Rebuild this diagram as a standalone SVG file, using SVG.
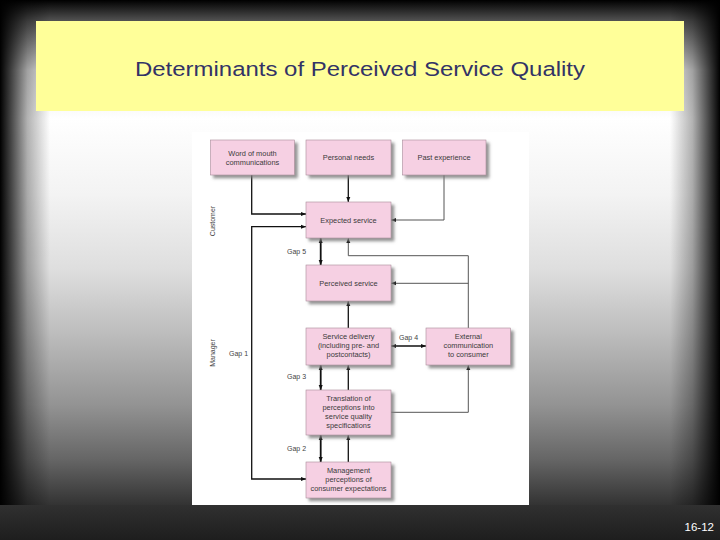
<svg xmlns="http://www.w3.org/2000/svg" width="720" height="540" viewBox="0 0 720 540">
<defs>
<linearGradient id="bgv" x1="0" y1="0" x2="0" y2="1">
<stop offset="0" stop-color="#000"/>
<stop offset="0.04" stop-color="#555"/>
<stop offset="0.13" stop-color="#e6e6e6"/>
<stop offset="0.22" stop-color="#fff"/>
<stop offset="0.36" stop-color="#f3f3f3"/>
<stop offset="0.5" stop-color="#dedede"/>
<stop offset="0.62" stop-color="#bcbcbc"/>
<stop offset="0.75" stop-color="#939393"/>
<stop offset="0.85" stop-color="#666"/>
<stop offset="0.935" stop-color="#333"/>
<stop offset="1" stop-color="#1c1c1c"/>
</linearGradient>
<linearGradient id="lside" x1="0" y1="0" x2="1" y2="0">
<stop offset="0" stop-color="#000" stop-opacity="1"/>
<stop offset="0.2" stop-color="#000" stop-opacity="0.75"/>
<stop offset="0.55" stop-color="#000" stop-opacity="0.3"/>
<stop offset="1" stop-color="#000" stop-opacity="0"/>
</linearGradient>
<linearGradient id="rside" x1="1" y1="0" x2="0" y2="0">
<stop offset="0" stop-color="#000" stop-opacity="1"/>
<stop offset="0.2" stop-color="#000" stop-opacity="0.75"/>
<stop offset="0.55" stop-color="#000" stop-opacity="0.3"/>
<stop offset="1" stop-color="#000" stop-opacity="0"/>
</linearGradient>
<linearGradient id="bot" x1="0" y1="0" x2="0" y2="1">
<stop offset="0" stop-color="#303030"/>
<stop offset="1" stop-color="#1e1e1e"/>
</linearGradient>
<filter id="sh" x="-20%" y="-20%" width="150%" height="160%">
<feDropShadow dx="3" dy="3" stdDeviation="1.6" flood-color="#7a7a7a" flood-opacity="0.8"/>
</filter>
<marker id="ah" viewBox="0 0 10 10" refX="10" refY="5" markerWidth="5" markerHeight="5" orient="auto-start-reverse" markerUnits="userSpaceOnUse">
<path d="M0,1 L10,5 L0,9 z" fill="#111"/>
</marker>
</defs>
<style>
.box{fill:#f6d0e3;stroke:#a88c9a;stroke-width:0.6;filter:url(#sh)}
.bt{font-family:"Liberation Sans",Arial,sans-serif;font-size:7.4px;fill:#3a3a3a;text-anchor:middle}
.lbl{font-family:"Liberation Sans",Arial,sans-serif;font-size:7px;fill:#444}
.ln{fill:none;stroke:#111;stroke-width:1.3}
.gp{fill:none;stroke:#111;stroke-width:1.8}
.gl{fill:none;stroke:#555;stroke-width:1}
</style>
<rect x="0" y="0" width="720" height="540" fill="url(#bgv)"/>
<rect x="0" y="0" width="50" height="540" fill="url(#lside)"/>
<rect x="670" y="0" width="50" height="540" fill="url(#rside)"/>
<rect x="0" y="505" width="720" height="35" fill="url(#bot)"/>
<rect x="36" y="21" width="648" height="90" fill="#ffff99"/>
<text x="135" y="76" font-family="'Liberation Sans',Arial,sans-serif" font-size="20.5" fill="#333366" textLength="450" lengthAdjust="spacingAndGlyphs">Determinants of Perceived Service Quality</text>
<text x="714" y="531" font-family="'Liberation Sans',Arial,sans-serif" font-size="11.5" fill="#fff" text-anchor="end">16-12</text>
<rect x="192" y="132" width="337" height="373" fill="#fff"/>
<text class="lbl" transform="translate(215,221) rotate(-90)" text-anchor="middle">Customer</text>
<text class="lbl" transform="translate(215,353) rotate(-90)" text-anchor="middle">Manager</text>
<g id="connectors">
<path class="ln" d="M251.7,175 V214 H306" marker-end="url(#ah)"/>
<path class="ln" d="M348.3,175 V202" marker-end="url(#ah)"/>
<path class="gl" d="M444,175 V220 H391" marker-end="url(#ah)"/>
<path class="ln" d="M306,226.7 H251.7 V479 H306" marker-start="url(#ah)" marker-end="url(#ah)"/>
<path class="gp" d="M320.7,238 V265" marker-start="url(#ah)" marker-end="url(#ah)"/>
<path class="gl" d="M468.3,328 V255.7 H348.3 V238" marker-end="url(#ah)"/>
<path class="gl" d="M468.3,283.3 H391" marker-end="url(#ah)"/>
<path class="ln" d="M348.3,328 V301" marker-end="url(#ah)"/>
<path class="ln" d="M391,346 H426" marker-start="url(#ah)" marker-end="url(#ah)"/>
<path class="gp" d="M320.7,365 V390" marker-start="url(#ah)" marker-end="url(#ah)"/>
<path class="ln" d="M348.3,390 V365" marker-end="url(#ah)"/>
<path class="gl" d="M391,412.3 H468.3 V365" marker-end="url(#ah)"/>
<path class="gp" d="M320.7,435 V462" marker-start="url(#ah)" marker-end="url(#ah)"/>
<path class="ln" d="M348.3,462 V435" marker-end="url(#ah)"/>
</g>
<text class="lbl" x="287" y="254">Gap 5</text>
<text class="lbl" x="229" y="356">Gap 1</text>
<text class="lbl" x="399" y="340">Gap 4</text>
<text class="lbl" x="287" y="379">Gap 3</text>
<text class="lbl" x="287" y="451">Gap 2</text>
<g id="word-of-mouth"><rect class="box" x="210.5" y="140" width="84" height="35"/><text class="bt" x="252.5" y="155.5">Word of mouth</text><text class="bt" x="252.5" y="164.5">communications</text></g>
<g id="personal-needs"><rect class="box" x="306" y="140" width="85" height="35"/><text class="bt" x="348.5" y="160">Personal needs</text></g>
<g id="past-experience"><rect class="box" x="402.5" y="140" width="83.5" height="35"/><text class="bt" x="444" y="160">Past experience</text></g>
<g id="expected-service"><rect class="box" x="306" y="202" width="85" height="36"/><text class="bt" x="348.5" y="222.5">Expected service</text></g>
<g id="perceived-service"><rect class="box" x="306" y="265" width="85" height="36"/><text class="bt" x="348.5" y="285.5">Perceived service</text></g>
<g id="service-delivery"><rect class="box" x="306" y="328" width="85" height="37"/><text class="bt" x="348.5" y="339">Service delivery</text><text class="bt" x="348.5" y="348">(including pre- and</text><text class="bt" x="348.5" y="357">postcontacts)</text></g>
<g id="external-communication"><rect class="box" x="426" y="328" width="84.5" height="37"/><text class="bt" x="468.3" y="339">External</text><text class="bt" x="468.3" y="348">communication</text><text class="bt" x="468.3" y="357">to consumer</text></g>
<g id="translation"><rect class="box" x="306" y="390" width="85" height="45"/><text class="bt" x="348.5" y="401">Translation of</text><text class="bt" x="348.5" y="410">perceptions into</text><text class="bt" x="348.5" y="419">service quality</text><text class="bt" x="348.5" y="428">specifications</text></g>
<g id="management"><rect class="box" x="306" y="462" width="85" height="36"/><text class="bt" x="348.5" y="472.5">Management</text><text class="bt" x="348.5" y="481.5">perceptions of</text><text class="bt" x="348.5" y="490.5">consumer expectations</text></g>
</svg>
